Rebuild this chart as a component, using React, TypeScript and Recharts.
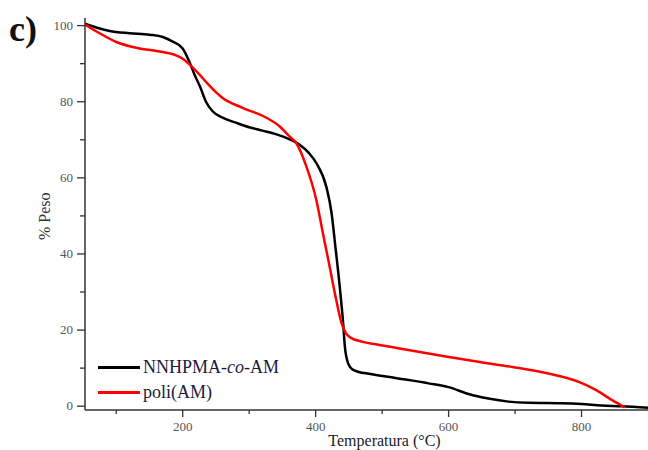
import React from "react";
import { LineChart, Line, XAxis, YAxis } from "recharts";

// TGA curves
const copolymerTemp = [53, 70, 90, 120, 150, 170, 185, 200, 210, 218, 226, 235, 245, 260, 280, 300, 320, 340, 360, 376, 390, 401, 416, 424, 429, 436, 441, 444, 449, 455, 465, 480, 520, 570, 600, 630, 660, 690, 720, 770, 800, 830, 860, 900];
const copolymerWeight = [100.5, 99.5, 98.6, 98.0, 97.6, 97.0, 95.8, 94.0, 90.5, 87, 84, 80, 77.5, 75.8, 74.5, 73.3, 72.4, 71.5, 70.2, 68.7, 66.5, 63.9, 57.7, 50.7, 43.0, 31.8, 22.6, 15.6, 11.2, 9.7, 9.0, 8.5, 7.4, 6.0, 5.0, 3.2, 2.0, 1.2, 0.9, 0.8, 0.6, 0.2, 0.0, -0.4];

const polyAmTemp = [53, 75, 100, 135, 165, 190, 200, 211, 226, 236, 260, 290, 326, 346, 360, 371, 386, 401, 411, 421, 431, 439, 445, 451, 471, 496, 522, 598, 647, 696, 747, 797, 822, 846, 865];
const polyAmWeight = [100.3, 98, 95.7, 94.0, 93.2, 92.2, 91.3, 89.7, 87, 85, 81, 78.4, 75.8, 73.5, 71, 69.1, 63, 54.2, 45.4, 36.7, 27.9, 21.8, 19.3, 18.2, 16.9, 16.1, 15.3, 13.0, 11.6, 10.3, 8.7, 6.3, 4.2, 1.6, -0.3];

const xTicks = [100, 200, 300, 400, 500, 600, 700, 800];
const yTicks = [0, 10, 20, 30, 40, 50, 60, 70, 80, 90, 100];

const copolymerData = copolymerTemp.map((t, i) => ({ t, w: copolymerWeight[i] }));
const polyAmData = polyAmTemp.map((t, i) => ({ t, w: polyAmWeight[i] }));

const serif = "'Liberation Serif', 'Times New Roman', serif";

function XTick(props: any) {
  const { x, y, payload } = props;
  const major = payload.value % 200 === 0;
  return (
    <g>
      <line x1={x} x2={x} y1={y} y2={y + (major ? 7 : 4)} stroke="#333" strokeWidth={1.3} />
      {major && (
        <text x={x} y={y + 21} textAnchor="middle" fill="#555" fontSize={13} fontFamily={serif}>
          {payload.value}
        </text>
      )}
    </g>
  );
}

function YTick(props: any) {
  const { x, y, payload } = props;
  const major = payload.value % 20 === 0;
  return (
    <g>
      <line x1={x - (major ? 8 : 5)} x2={x} y1={y} y2={y} stroke="#333" strokeWidth={1.3} />
      {major && (
        <text x={x - 12} y={y + 4} textAnchor="end" fill="#555" fontSize={13} fontFamily={serif}>
          {payload.value}
        </text>
      )}
    </g>
  );
}

function LegendBox() {
  const items = [
    { color: "#000000", label: <>NNHPMA-<i>co</i>-AM</> },
    { color: "#ff0000", label: <>poli(AM)</> },
  ];
  return (
    <div style={{ fontFamily: serif, fontSize: 18, color: "#1a1a3a", lineHeight: "25px" }}>
      {items.map((it, i) => (
        <div key={i} style={{ display: "flex", alignItems: "center", height: 25, whiteSpace: "nowrap" }}>
          <span style={{ display: "inline-block", width: 42, height: 3, background: it.color, marginRight: 3 }} />
          <span>{it.label}</span>
        </div>
      ))}
    </div>
  );
}

export default function App() {
  return (
    <div style={{ position: "absolute", left: 0, top: 0, width: 648, height: 450, background: "#fff", overflow: "hidden" }}>
      <LineChart width={648} height={450} margin={{ top: 18, right: 0, bottom: 0, left: 0 }}>
        <XAxis
          type="number"
          dataKey="t"
          domain={[53, 900]}
          ticks={xTicks}
          allowDataOverflow
          tickLine={false}
          tickSize={0}
          tickMargin={0}
          height={40}
          stroke="#333"
          strokeWidth={1.5}
          tick={<XTick />}
          label={{ value: "Temperatura (°C)", position: "insideBottom", offset: 4, dx: 18, fill: "#222", fontSize: 16, fontFamily: serif }}
        />
        <YAxis
          type="number"
          domain={[-1, 102]}
          ticks={yTicks}
          allowDataOverflow
          tickLine={false}
          tickSize={0}
          tickMargin={0}
          width={85}
          stroke="#333"
          strokeWidth={1.5}
          tick={<YTick />}
          label={{ value: "% Peso", angle: -90, position: "insideLeft", offset: 44, dy: 26, fill: "#333", fontSize: 16, fontFamily: serif }}
        />
        <Line data={copolymerData} dataKey="w" name="NNHPMA-co-AM" type="monotone" stroke="#000" strokeWidth={2.5} dot={false} isAnimationActive={false} />
        <Line data={polyAmData} dataKey="w" name="poli(AM)" type="monotone" stroke="#ff0000" strokeWidth={2.5} dot={false} isAnimationActive={false} />
      </LineChart>
      <div style={{ position: "absolute", left: 98, top: 355 }}>
        <LegendBox />
      </div>
      <div style={{ position: "absolute", left: 9, top: 8, fontFamily: serif, fontWeight: "bold", fontSize: 36, color: "#111" }}>
        c)
      </div>
    </div>
  );
}
